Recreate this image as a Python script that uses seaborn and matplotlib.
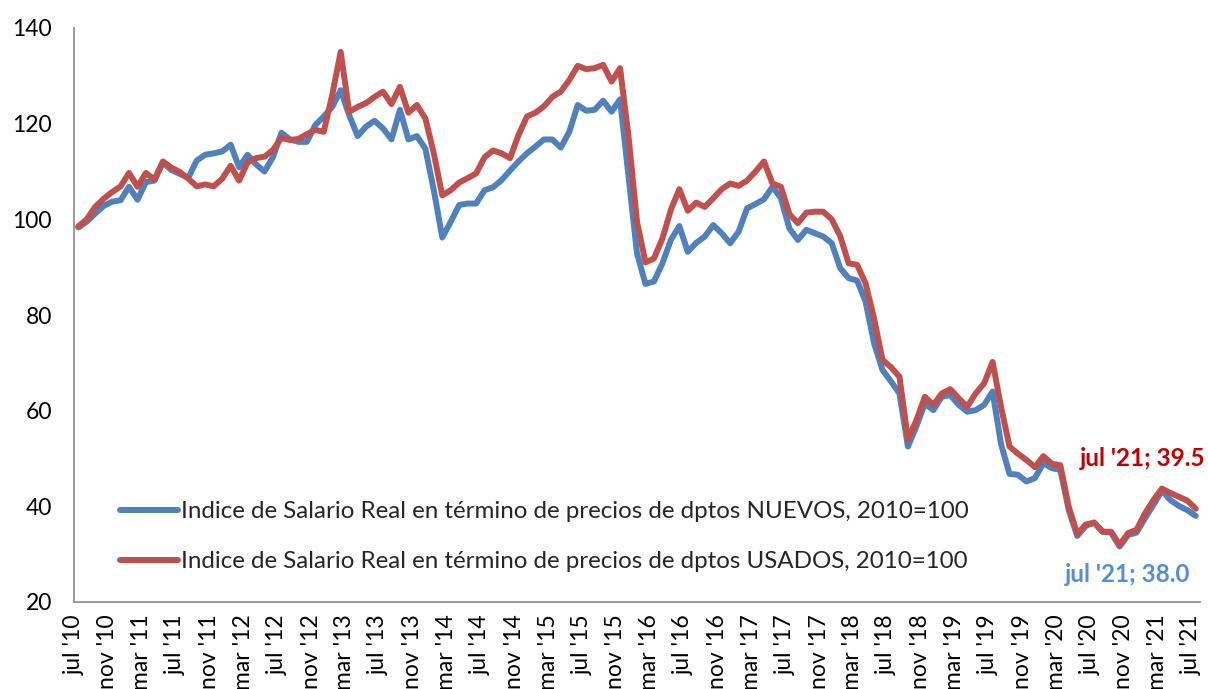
import numpy as np
import pandas as pd
import matplotlib.pyplot as plt
import seaborn as sns

# indice de salario real en m2 de departamentos, mensual jul '10 - jul '21
nuevos = [98.3, 99.5, 101.2, 102.8, 103.7, 104.0, 106.8, 104.1, 107.8, 108.1,
          111.9, 110.3, 109.5, 108.7, 112.3, 113.5, 113.8, 114.2, 115.6, 110.9,
          113.5, 111.5, 110.0, 113.0, 118.1, 116.7, 116.2, 116.2, 119.7, 121.5,
          123.5, 127.0, 121.8, 117.4, 119.4, 120.6, 119.0, 116.7, 122.9, 116.7,
          117.4, 114.8, 106.1, 96.2, 99.5, 103.0, 103.3, 103.3, 106.1, 106.7,
          108.2, 110.2, 112.1, 113.8, 115.2, 116.7, 116.7, 115.0, 118.3, 123.9,
          122.7, 122.9, 124.8, 122.5, 125.1, 108.9, 92.9, 86.5, 87.0, 90.8,
          95.7, 98.6, 93.2, 95.1, 96.4, 98.8, 97.1, 95.0, 97.4, 102.3,
          103.2, 104.2, 106.8, 104.4, 98.1, 95.7, 97.8, 97.1, 96.4, 95.0,
          89.8, 87.7, 87.2, 82.8, 74.1, 68.5, 66.1, 63.6, 52.5, 56.7,
          61.5, 60.1, 62.9, 63.3, 61.2, 59.8, 60.1, 61.2, 64.0, 53.0,
          46.8, 46.6, 45.2, 45.9, 49.0, 48.0, 47.6, 39.2, 33.8, 35.9,
          36.6, 34.7, 34.5, 31.6, 34.0, 34.5, 37.5, 40.3, 43.3, 41.3,
          40.1, 39.2, 38.0]

usados = [98.5, 100.0, 102.6, 104.3, 105.7, 106.9, 109.7, 106.8, 109.7, 108.3,
          112.1, 110.8, 109.9, 108.5, 106.9, 107.3, 106.9, 108.5, 111.2, 108.1,
          111.9, 112.8, 113.1, 114.5, 117.0, 116.6, 116.8, 117.8, 118.7, 118.3,
          126.0, 135.0, 122.5, 123.5, 124.3, 125.6, 126.7, 124.1, 127.7, 122.3,
          123.9, 121.1, 113.8, 105.0, 106.1, 107.7, 108.6, 109.6, 113.0, 114.4,
          113.8, 112.8, 117.6, 121.5, 122.3, 123.6, 125.6, 126.7, 129.1, 132.1,
          131.4, 131.6, 132.3, 128.8, 131.6, 117.3, 99.5, 91.0, 91.8, 96.0,
          102.0, 106.3, 101.8, 103.5, 102.6, 104.4, 106.3, 107.5, 107.0, 108.1,
          110.0, 112.1, 107.5, 106.8, 101.1, 99.2, 101.4, 101.6, 101.6, 100.0,
          96.5, 90.8, 90.5, 86.6, 79.3, 70.6, 69.1, 67.1, 54.0, 58.0,
          62.9, 61.2, 63.6, 64.5, 62.6, 60.8, 63.6, 65.7, 70.2, 60.8,
          52.5, 51.0, 49.7, 48.2, 50.5, 48.9, 48.6, 39.9, 34.2, 36.2,
          36.6, 34.7, 34.7, 31.9, 34.4, 35.1, 38.5, 41.3, 43.7, 42.8,
          42.0, 41.2, 39.5]

tick_labels = ["jul '10", "nov '10", "mar '11", "jul '11", "nov '11", "mar '12",
               "jul '12", "nov '12", "mar '13", "jul '13", "nov '13", "mar '14",
               "jul '14", "nov '14", "mar '15", "jul '15", "nov '15", "mar '16",
               "jul '16", "nov '16", "mar '17", "jul '17", "nov '17", "mar '18",
               "jul '18", "nov '18", "mar '19", "jul '19", "nov '19", "mar '20",
               "jul '20", "nov '20", "mar '21", "jul '21"]

label_nuevos = 'Indice de Salario Real en término de precios de dptos NUEVOS, 2010=100'
label_usados = 'Indice de Salario Real en término de precios de dptos USADOS, 2010=100'
last_nuevos = "jul '21; 38.0"
last_usados = "jul '21; 39.5"

blue = '#4F81BD'
red = '#C0504D'
grey = '#868686'

sns.set_style('white')
plt.rcParams['font.family'] = ['Lato', 'DejaVu Sans']

n = len(nuevos)
pos = np.arange(n) + 0.5
df = pd.DataFrame({
    'pos': np.concatenate([pos, pos]),
    'valor': nuevos + usados,
    'serie': [label_nuevos] * n + [label_usados] * n,
})

fig = plt.figure(figsize=(12.08, 6.89), dpi=100)
ax = fig.add_axes([74 / 1208, 1 - 602 / 689, 1126 / 1208, 574 / 689])

sns.lineplot(data=df, x='pos', y='valor', hue='serie',
             palette=[blue, red], linewidth=4.3, ax=ax,
             solid_joinstyle='round', solid_capstyle='round')

ax.set_xlim(0, n)
ax.set_ylim(20, 140)
ax.set_yticks(range(20, 141, 20))
ax.set_xticks(range(0, n, 4))
ax.set_xticklabels(tick_labels, rotation=90)
ax.set_xlabel('')
ax.set_ylabel('')

for s in ['top', 'right']:
    ax.spines[s].set_visible(False)
for s in ['left', 'bottom']:
    ax.spines[s].set_color(grey)
    ax.spines[s].set_linewidth(1.2)
ax.tick_params(axis='both', direction='out', length=6, width=1.2,
               color=grey, labelsize=16.5, labelcolor='black')
ax.tick_params(axis='y', pad=10)
ax.tick_params(axis='x', pad=3)

leg = ax.legend(loc='lower left', bbox_to_anchor=(0.041, 0.052),
                frameon=False, fontsize=17.4, handlelength=2.4,
                handletextpad=0.12, labelspacing=1.2, borderpad=0,
                borderaxespad=0)
for line in leg.get_lines():
    line.set_linewidth(4.3)

ax.text(133.6, 50.1, last_usados, ha='right', va='center',
        fontsize=17.5, fontweight='bold', color='#C00000')
ax.text(131.8, 25.8, last_nuevos, ha='right', va='center',
        fontsize=17.5, fontweight='bold', color='#558ED5')

plt.savefig('out.png', dpi=100)
